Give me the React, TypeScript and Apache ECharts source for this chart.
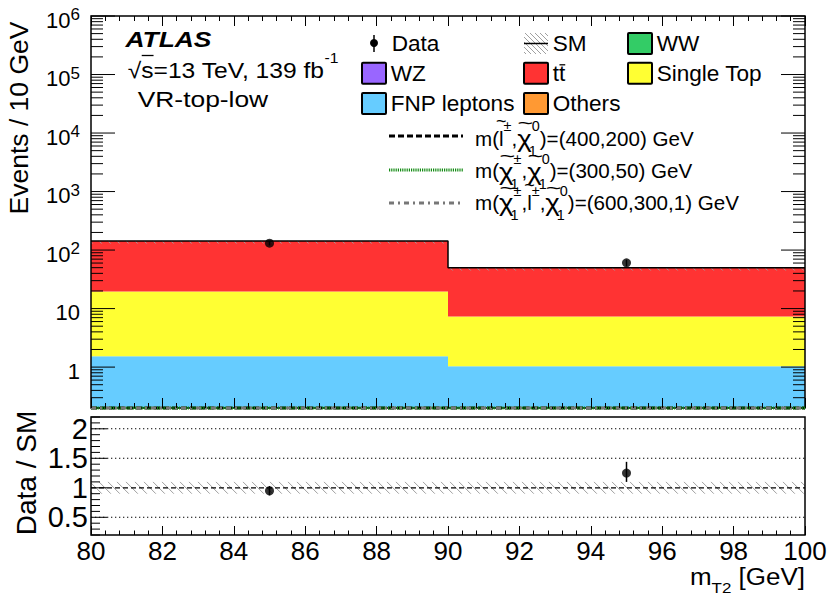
import React, { useEffect, useRef } from 'react';
import * as echarts from 'echarts';

// ---------------- data ----------------
const binLow = [80, 90];
const binHigh = [90, 100];
const binCenter = [85, 95];
// stack components (bottom -> top)
const fnpLeptons = [1.54, 1.03];
const others = [0, 0];
const wz = [0, 0];
const ww = [0, 0];
const singleTop = [18.1, 6.3];
const ttbar = [123.9, 42.4];
// observed data
const dataEvents = [131, 60.5];
const dataErr = [11, 8];
// ratio panel
const ratioValues = [0.95, 1.25];
const ratioErrLow = [0.08, 0.15];
const ratioErrHigh = [0.08, 0.19];
const smRelUnc = [0.1, 0.1];
// signal benchmarks (below axis floor in this region)
const sigSlepton = [0, 0];
const sigChargino = [0, 0];
const sigChain = [0, 0];
// tick labels
const xTickLabels = [80, 82, 84, 86, 88, 90, 92, 94, 96, 98, 100];
const logDecadeLabels = [0, 1, 2, 3, 4, 5, 6];
const ratioTickLabels = [0.5, 1, 1.5, 2];

// ---------------- constants ----------------
const X_MIN = 80, X_MAX = 100;
const Y_MIN = 0.2, Y_MAX = 1e6;
const R_MIN = 0.2, R_MAX = 2.2;
const FONT = '"Liberation Sans", Arial, Helvetica, sans-serif';
const HATCH = '#a0a0a0';

const stackDefs = [
  { name: 'FNP leptons', vals: fnpLeptons, color: '#66ccff' },
  { name: 'Others', vals: others, color: '#ff9933' },
  { name: 'WZ', vals: wz, color: '#9966ff' },
  { name: 'WW', vals: ww, color: '#33cc66' },
  { name: 'Single Top', vals: singleTop, color: '#ffff33' },
  { name: 'ttbar', vals: ttbar, color: '#ff3333' },
];

let mctx: any = null;
function tw(text: string, size: number, weight = 'normal', style = 'normal') {
  if (!mctx) mctx = document.createElement('canvas').getContext('2d');
  mctx.font = `${style} ${weight} ${size}px ${FONT}`;
  return mctx.measureText(text).width;
}

function txt(x: number, y: number, text: string, size: number, sx = 1, align = 'left', o: any = {}) {
  return {
    type: 'text', x, y, scaleX: sx, silent: true, z: 100,
    style: {
      text,
      font: `${o.style || 'normal'} ${o.weight || 'normal'} ${size}px ${FONT}`,
      fill: '#000', textAlign: align, verticalAlign: 'middle', textVerticalAlign: 'middle',
    },
  };
}

function latex(x0: number, yc: number, toks: any[], o: any) {
  const els: any[] = [];
  let x = x0;
  for (const tk of toks) {
    if (tk.t !== undefined) {
      const size = tk.sz || o.size;
      const sx = tk.sx || o.sx;
      const w = tw(tk.t, size, o.weight, o.style) * sx;
      els.push(txt(x, yc, tk.t, size, sx, 'left', o));
      if (tk.tilde !== undefined) els.push(txt(x + w / 2 + (tk.tdx || 0), yc + tk.tilde, '~', 18, tk.tsx || 1, 'center'));
      if (tk.over) els.push({ type: 'line', z: 100, silent: true, shape: { x1: x + 0.5, y1: yc + o.overDy, x2: x + w, y2: yc + o.overDy }, style: { stroke: '#000', lineWidth: 1.3 } });
      x += w;
    } else {
      const w1 = tk.sup ? tw(tk.sup, o.small) * o.sx : 0;
      const w2 = tk.sub ? tw(tk.sub, o.small) * o.sx : 0;
      if (tk.sup) els.push(txt(x, yc + o.supDy, tk.sup, o.small, o.sx, 'left'));
      if (tk.sub) els.push(txt(x + (tk.subDx || 0), yc + o.subDy, tk.sub, o.small, o.sx, 'left'));
      x += Math.max(w1, w2 + (tk.subDx || 0));
    }
  }
  return { els, width: x - x0 };
}

function hatchLines(left: number, top: number, right: number, bottom: number, spacing: number, color: string) {
  const h = bottom - top;
  const out: any[] = [];
  for (let s = Math.floor((left - h) / spacing) * spacing; s < right; s += spacing) {
    let x1 = s, y1 = top, x2 = s + h, y2 = bottom;
    if (x1 < left) { y1 = top + (left - x1); x1 = left; }
    if (x2 > right) { y2 = bottom - (x2 - right); x2 = right; }
    if (x2 <= x1) continue;
    out.push({ type: 'line', shape: { x1, y1, x2, y2 }, style: { stroke: color, lineWidth: 1 } });
  }
  return out;
}

function buildOption() {
  // stacked rectangles
  const stackRects: any[] = [];
  const totals: number[] = [];
  for (let i = 0; i < binLow.length; i++) {
    let cum = 0;
    stackDefs.forEach((s, k) => {
      const lo = cum, hi = cum + s.vals[i];
      if (s.vals[i] > 0) stackRects.push([binLow[i], binHigh[i], Math.max(lo, Y_MIN), hi, k]);
      cum = hi;
    });
    totals.push(cum);
  }
  const outline: number[][] = [];
  const mainBand: number[][] = [];
  const ratioBand: number[][] = [];
  for (let i = 0; i < binLow.length; i++) {
    outline.push([binLow[i], totals[i]], [binHigh[i], totals[i]]);
    mainBand.push([binLow[i], binHigh[i], totals[i] * (1 - smRelUnc[i]), totals[i]]);
    ratioBand.push([binLow[i], binHigh[i], 1 - smRelUnc[i], 1 + smRelUnc[i]]);
  }
  const sigLine = (vals: number[]) => {
    const out: number[][] = [];
    vals.forEach((v, i) => out.push([binLow[i], Math.max(v, Y_MIN)], [binHigh[i], Math.max(v, Y_MIN)]));
    return out;
  };
  const mainPts = binCenter.map((c, i) => [c, dataEvents[i], dataEvents[i] - dataErr[i], dataEvents[i] + dataErr[i]]);
  const ratioPts = binCenter.map((c, i) => [c, ratioValues[i], ratioValues[i] - ratioErrLow[i], ratioValues[i] + ratioErrHigh[i]]);

  const xAxisBase = (gridIndex: number, position: string, showLabel: boolean, major: number, minor: number) => ({
    type: 'value', gridIndex, position, min: X_MIN, max: X_MAX, interval: 2, z: 10,
    axisLine: { show: false },
    axisTick: { show: true, inside: true, length: major, lineStyle: { color: '#000', width: 1 } },
    minorTick: { show: true, splitNumber: 5, length: minor, lineStyle: { color: '#000', width: 1 } },
    splitLine: { show: false }, minorSplitLine: { show: false },
    axisLabel: showLabel ? {
      show: true, color: '#000', fontFamily: FONT, fontSize: 26, margin: 3,
      showMinLabel: true, showMaxLabel: true,
      formatter: (v: number) => (xTickLabels.some((l) => Math.abs(l - v) < 1e-6) ? String(Math.round(v)) : ''),
    } : { show: false },
  });

  const logFmt = (v: number) => {
    const e = Math.round(Math.log10(v));
    if (!logDecadeLabels.includes(e) || Math.abs(v - Math.pow(10, e)) / Math.pow(10, e) > 1e-6) return '';
    if (e === 0) return '{b|1}';
    if (e === 1) return '{b|10}';
    return `{b|10}{s|${e}}`;
  };

  const errorBars = (params: any, api: any) => {
    const x = api.value(0);
    const p1 = api.coord([x, api.value(2)]);
    const p2 = api.coord([x, api.value(3)]);
    return { type: 'line', shape: { x1: p1[0], y1: p1[1], x2: p2[0], y2: p2[1] }, style: { stroke: '#000', lineWidth: 1.5 } };
  };

  const bandRender = (spacing: number) => (params: any, api: any) => {
    const a = api.coord([api.value(0), api.value(3)]);
    const b = api.coord([api.value(1), api.value(2)]);
    return { type: 'group', children: hatchLines(a[0], a[1], b[0], b[1], spacing, HATCH) };
  };

  const mainTicks = (params: any, api: any) => {
    const ch: any[] = [];
    for (let e = -1; e <= 6; e++) {
      for (let m = 1; m <= 9; m++) {
        const v = m * Math.pow(10, e);
        if (v < Y_MIN - 1e-9 || v > Y_MAX * 1.0000001) continue;
        const len = m === 1 ? 24 : 12;
        const pl = api.coord([X_MIN, v]);
        const pr = api.coord([X_MAX, v]);
        ch.push({ type: 'line', shape: { x1: pl[0], y1: pl[1], x2: pl[0] + len, y2: pl[1] }, style: { stroke: '#000', lineWidth: 1 } });
        ch.push({ type: 'line', shape: { x1: pr[0], y1: pr[1], x2: pr[0] - len, y2: pr[1] }, style: { stroke: '#000', lineWidth: 1 } });
      }
    }
    const a = api.coord([X_MIN, Y_MAX]);
    const b = api.coord([X_MAX, Y_MIN]);
    ch.push({ type: 'rect', shape: { x: a[0], y: a[1], width: b[0] - a[0], height: b[1] - a[1] }, style: { fill: 'none', stroke: '#000', lineWidth: 1.5 } });
    return { type: 'group', children: ch };
  };

  const ratioTicks = (params: any, api: any) => {
    const ch: any[] = [];
    for (let k = Math.round(R_MIN * 10); k <= Math.round(R_MAX * 10); k++) {
      const v = k / 10;
      const len = k % 5 === 0 ? 16 : 9;
      const p = api.coord([X_MIN, v]);
      ch.push({ type: 'line', shape: { x1: p[0], y1: p[1], x2: p[0] + len, y2: p[1] }, style: { stroke: '#000', lineWidth: 1 } });
    }
    const a = api.coord([X_MIN, R_MAX]);
    const b = api.coord([X_MAX, R_MIN]);
    ch.push({ type: 'rect', shape: { x: a[0], y: a[1], width: b[0] - a[0], height: b[1] - a[1] }, style: { fill: 'none', stroke: '#000', lineWidth: 1.5 } });
    return { type: 'group', children: ch };
  };

  const ratioLines = (params: any, api: any) => {
    const ch: any[] = [];
    ratioTickLabels.forEach((v) => {
      const a = api.coord([X_MIN, v]);
      const b = api.coord([X_MAX, v]);
      const isOne = Math.abs(v - 1) < 1e-9;
      ch.push({ type: 'line', shape: { x1: a[0], y1: a[1], x2: b[0], y2: b[1] }, style: { stroke: '#000', lineWidth: isOne ? 1.2 : 1.1, lineDash: isOne ? [5, 3] : [1.3, 2.7] } });
    });
    return { type: 'group', children: ch };
  };

  // ---------------- graphic (labels, legend) ----------------
  const g: any[] = [];
  // axis titles
  g.push({ type: 'text', x: 19, y: 118, rotation: Math.PI / 2, silent: true, z: 100, style: { text: 'Events / 10 GeV', font: `normal normal 26.5px ${FONT}`, fill: '#000', textAlign: 'center', verticalAlign: 'middle', textVerticalAlign: 'middle' } });
  g.push({ type: 'text', x: 26, y: 473, rotation: Math.PI / 2, silent: true, z: 100, style: { text: 'Data / SM', font: `normal normal 28px ${FONT}`, fill: '#000', textAlign: 'center', verticalAlign: 'middle', textVerticalAlign: 'middle' } });
  const xo = { size: 23, small: 15, subDy: 10.5, supDy: -10, sx: 1.13 };
  const xt = [{ t: 'm' }, { sub: 'T2' }, { t: ' [GeV]' }];
  const xw = latex(0, 0, xt, xo).width;
  g.push(...latex(805 - xw, 577.5, xt, xo).els);

  // ATLAS block
  g.push(txt(125.5, 39.5, 'ATLAS', 22, 1.2, 'left', { weight: 'bold', style: 'italic' }));
  g.push(...latex(127.7, 70, [{ t: '√' }, { t: 's', over: true }, { t: '=13 TeV, 139 fb' }, { sup: '-1' }], { size: 22, small: 14, supDy: -12, subDy: 8, sx: 1.12, overDy: -14.5 }).els);
  g.push(txt(137.7, 99, 'VR-top-low', 22, 1.2));

  // legend
  const lo = { size: 21.5, small: 14, supDy: -9, subDy: 8, sx: 1.05, overDy: -8.5 };
  const rows = [43.5, 73.3, 103.5];
  const box = (x: number, yc: number, color: string) => ({ type: 'rect', z: 100, silent: true, shape: { x, y: yc - 10.5, width: 24, height: 21, r: 1 }, style: { fill: color, stroke: '#000', lineWidth: 2 } });
  // Data
  g.push({ type: 'line', z: 100, silent: true, shape: { x1: 374, y1: 35, x2: 374, y2: 52 }, style: { stroke: '#000', lineWidth: 1.5 } });
  g.push({ type: 'circle', z: 100, silent: true, shape: { cx: 374, cy: 43, r: 4 }, style: { fill: '#000' } });
  g.push(txt(391.7, rows[0], 'Data', lo.size, lo.sx));
  // SM
  g.push({ type: 'group', z: 100, silent: true, children: hatchLines(524, 33, 548, 54, 5, HATCH) });
  g.push({ type: 'line', z: 100, silent: true, shape: { x1: 524, y1: 43.5, x2: 548, y2: 43.5 }, style: { stroke: '#000', lineWidth: 1.5 } });
  g.push(txt(552.7, rows[0], 'SM', lo.size, lo.sx));
  // WW
  g.push(box(628, rows[0], '#33cc66'));
  g.push(txt(656.7, rows[0], 'WW', lo.size, lo.sx));
  // WZ
  g.push(box(362, rows[1], '#9966ff'));
  g.push(txt(390.7, rows[1], 'WZ', lo.size, lo.sx));
  // ttbar
  g.push(box(524, rows[1], '#ff3333'));
  g.push(...latex(552.7, rows[1], [{ t: 't' }, { t: 't', over: true }], lo).els);
  // Single Top
  g.push(box(628, rows[1], '#ffff33'));
  g.push(txt(656.7, rows[1], 'Single Top', lo.size, lo.sx));
  // FNP
  g.push(box(362, rows[2], '#66ccff'));
  g.push(txt(390.7, rows[2], 'FNP leptons', lo.size, lo.sx));
  // Others
  g.push(box(524, rows[2], '#ff9933'));
  g.push(txt(552.7, rows[2], 'Others', lo.size, lo.sx));

  // signal legend
  const sigStyles = [
    { color: '#000000', dash: [6, 3], y: 136, ty: 139 },
    { color: '#138a13', dash: [1.2, 1], y: 170, ty: 171.6 },
    { color: '#777777', dash: [5, 4, 2, 4], y: 203, ty: 203.3 },
  ];
  sigStyles.forEach((s) => g.push({ type: 'line', z: 100, silent: true, shape: { x1: 389, y1: s.y, x2: 463, y2: s.y }, style: { stroke: s.color, lineWidth: 3, lineDash: s.dash } }));
  const so = { size: 20, small: 14, supDy: -12.5, subDy: 12, sx: 1.03 };
  const L = { t: 'l', tilde: -18 };
  const C = { t: 'χ', sz: 23, sx: 1.2, tilde: -16, tsx: 1.5, tdx: 1 };
  const SS = { sup: '0', sub: '1', subDx: -3 };
  const PM = { sup: '±', sub: '1', subDx: -3 };
  g.push(...latex(475, sigStyles[0].ty, [{ t: 'm(' }, L, { sup: '±' }, { t: ',' }, C, SS, { t: ')=(400,200) GeV' }], so).els);
  g.push(...latex(475, sigStyles[1].ty, [{ t: 'm(' }, C, PM, { t: ',' }, C, SS, { t: ')=(300,50) GeV' }], so).els);
  g.push(...latex(475, sigStyles[2].ty, [{ t: 'm(' }, C, PM, { t: ',' }, L, { sup: '±' }, { t: ',' }, C, SS, { t: ')=(600,300,1) GeV' }], so).els);

  return {
    animation: false,
    backgroundColor: '#fff',
    grid: [
      { left: 91, top: 16, width: 714, height: 392, show: false },
      { left: 91, top: 417, width: 714, height: 118, show: false },
    ],
    xAxis: [
      xAxisBase(0, 'bottom', false, 10, 5),
      xAxisBase(0, 'top', false, 10, 5),
      xAxisBase(1, 'bottom', true, 9, 4.5),
    ],
    yAxis: [
      {
        type: 'log', gridIndex: 0, min: Y_MIN, max: Y_MAX, logBase: 10,
        axisLine: { show: false }, axisTick: { show: false }, splitLine: { show: false }, minorTick: { show: false },
        axisLabel: {
          show: true, margin: 11, showMinLabel: true, showMaxLabel: true, formatter: logFmt, padding: [6, 0, 0, 0],
          rich: {
            b: { fontSize: 22, fontFamily: FONT, color: '#000', lineHeight: 24, verticalAlign: 'bottom' },
            s: { fontSize: 17, fontFamily: FONT, color: '#000', lineHeight: 17, verticalAlign: 'bottom', padding: [0, 0, 8, 0] },
          },
        },
      },
      {
        type: 'value', gridIndex: 1, min: R_MIN, max: R_MAX, interval: 0.1,
        axisLine: { show: false }, axisTick: { show: false }, splitLine: { show: false },
        axisLabel: {
          show: true, margin: 3, color: '#000', fontFamily: FONT, fontSize: 29, showMinLabel: true, showMaxLabel: true,
          formatter: (v: number) => {
            const m = ratioTickLabels.find((l) => Math.abs(l - v) < 1e-6);
            return m === undefined ? '' : String(m);
          },
        },
      },
    ],
    graphic: g,
    series: [
      {
        type: 'custom', xAxisIndex: 0, yAxisIndex: 0, z: 2, silent: true,
        data: stackRects, encode: { x: [0, 1], y: [2, 3] },
        renderItem: (params: any, api: any) => {
          const a = api.coord([api.value(0), api.value(3)]);
          const b = api.coord([api.value(1), api.value(2)]);
          return { type: 'rect', shape: { x: a[0], y: a[1], width: b[0] - a[0], height: b[1] - a[1] }, style: { fill: stackDefs[api.value(4)].color } };
        },
      },
      {
        type: 'custom', xAxisIndex: 0, yAxisIndex: 0, z: 3, silent: true,
        data: mainBand, encode: { x: [0, 1], y: [2, 3] }, renderItem: bandRender(9),
      },
      {
        type: 'line', xAxisIndex: 0, yAxisIndex: 0, z: 4, silent: true, symbol: 'none', clip: false,
        data: outline, lineStyle: { color: '#000', width: 1.5 },
      },
      {
        type: 'custom', xAxisIndex: 0, yAxisIndex: 0, z: 8, silent: true,
        data: [[X_MIN, 1]], renderItem: mainTicks,
      },
      {
        type: 'line', xAxisIndex: 0, yAxisIndex: 0, z: 9, silent: true, symbol: 'none', clip: false,
        data: sigLine(sigSlepton), lineStyle: { color: sigStyles[0].color, width: 3, type: sigStyles[0].dash },
      },
      {
        type: 'line', xAxisIndex: 0, yAxisIndex: 0, z: 9, silent: true, symbol: 'none', clip: false,
        data: sigLine(sigChargino), lineStyle: { color: sigStyles[1].color, width: 3, type: sigStyles[1].dash },
      },
      {
        type: 'line', xAxisIndex: 0, yAxisIndex: 0, z: 9, silent: true, symbol: 'none', clip: false,
        data: sigLine(sigChain), lineStyle: { color: sigStyles[2].color, width: 3, type: sigStyles[2].dash },
      },
      {
        type: 'custom', xAxisIndex: 0, yAxisIndex: 0, z: 10, silent: true,
        data: mainPts, encode: { x: 0, y: [1, 2, 3] }, renderItem: errorBars,
      },
      {
        type: 'scatter', xAxisIndex: 0, yAxisIndex: 0, z: 11, silent: true,
        data: mainPts.map((p) => [p[0], p[1]]), symbol: 'circle', symbolSize: 9, itemStyle: { color: '#000' },
      },
      // ratio panel
      {
        type: 'custom', xAxisIndex: 2, yAxisIndex: 1, z: 2, silent: true,
        data: ratioBand, encode: { x: [0, 1], y: [2, 3] }, renderItem: bandRender(9),
      },
      {
        type: 'custom', xAxisIndex: 2, yAxisIndex: 1, z: 3, silent: true,
        data: [[X_MIN, 1]], renderItem: ratioLines,
      },
      {
        type: 'custom', xAxisIndex: 2, yAxisIndex: 1, z: 8, silent: true,
        data: [[X_MIN, 1]], renderItem: ratioTicks,
      },
      {
        type: 'custom', xAxisIndex: 2, yAxisIndex: 1, z: 9, silent: true,
        data: ratioPts, encode: { x: 0, y: [1, 2, 3] }, renderItem: errorBars,
      },
      {
        type: 'scatter', xAxisIndex: 2, yAxisIndex: 1, z: 10, silent: true,
        data: ratioPts.map((p) => [p[0], p[1]]), symbol: 'circle', symbolSize: 9, itemStyle: { color: '#000' },
      },
    ],
  };
}

export default function App() {
  const ref = useRef<HTMLDivElement>(null);
  useEffect(() => {
    document.body.style.margin = '0';
    const chart = echarts.init(ref.current as HTMLDivElement, null, { renderer: 'svg' });
    chart.setOption(buildOption() as any);
    return () => chart.dispose();
  }, []);
  return <div ref={ref} style={{ width: 830, height: 596 }} />;
}
